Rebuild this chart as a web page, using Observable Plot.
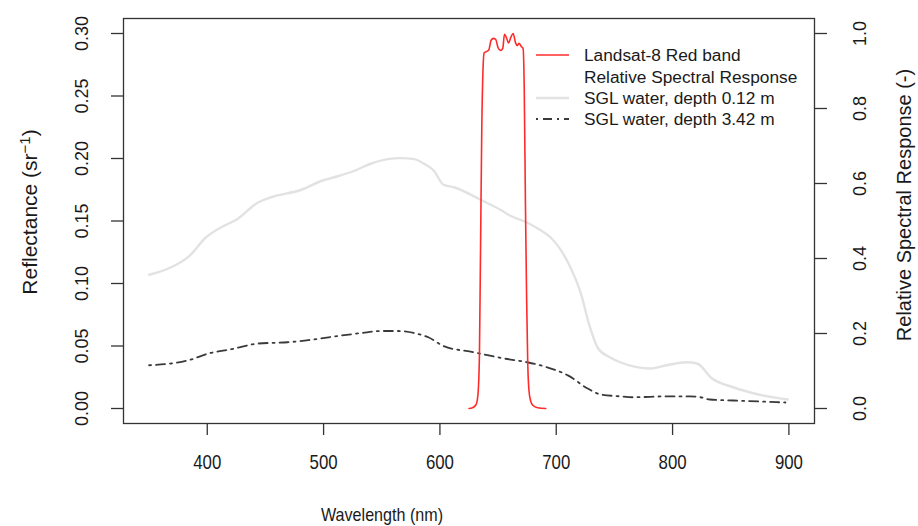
<!DOCTYPE html>
<html><head><meta charset="utf-8">
<script src="https://cdn.jsdelivr.net/npm/d3@7"></script>
<script src="https://cdn.jsdelivr.net/npm/@observablehq/plot@0.6"></script>
<style>body{margin:0;background:#fff;} svg{display:block;}</style>
</head><body><div id="chart"></div>
<script>
// ---- data ----
const xTicks = [400, 500, 600, 700, 800, 900];
const reflTicks = [0, 0.05, 0.10, 0.15, 0.20, 0.25, 0.30];
const rsrTicks = [0, 0.2, 0.4, 0.6, 0.8, 1.0];
const RSR_TO_REFL = 0.3; // right axis 1.0 aligns with left axis 0.30

const shallowWl   = [350, 369, 384, 399, 412, 425, 444, 455, 481, 498, 513, 526, 541, 555, 566, 578, 586, 595, 603, 612, 635, 652, 661, 672, 686, 695, 710, 721, 729, 736, 746, 755, 781, 795, 812, 821, 834, 852, 875, 899];
const shallowRefl = [0.107, 0.113, 0.1215, 0.137, 0.145, 0.151, 0.165, 0.169, 0.175, 0.182, 0.186, 0.190, 0.196, 0.1995, 0.2003, 0.1995, 0.196, 0.190, 0.179, 0.177, 0.167, 0.159, 0.154, 0.150, 0.143, 0.137, 0.117, 0.0925, 0.065, 0.048, 0.041, 0.037, 0.032, 0.0346, 0.037, 0.036, 0.024, 0.017, 0.011, 0.0072];

const deepWl   = [350, 369, 384, 401, 421, 444, 469, 487, 512, 532, 549, 564, 578, 590, 603, 629, 655, 675, 692, 710, 727, 738, 755, 766, 795, 815, 824, 832, 852, 875, 897];
const deepRefl = [0.0346, 0.036, 0.0386, 0.044, 0.0475, 0.052, 0.053, 0.0547, 0.058, 0.0603, 0.062, 0.062, 0.0603, 0.057, 0.050, 0.045, 0.040, 0.037, 0.033, 0.0265, 0.016, 0.0113, 0.0097, 0.009, 0.0097, 0.0097, 0.009, 0.0072, 0.0064, 0.0056, 0.0048];

const rsrWl  = [625, 628, 631, 632, 633, 634, 635, 636, 637, 638, 640, 642, 644, 646, 648, 650, 652, 654, 655.5, 657, 659, 661, 663, 665, 666.5, 668, 670, 671.5, 672.5, 673.5, 674.5, 675.5, 676.5, 678, 680, 684, 691];
const rsrVal = [0, 0.002, 0.01, 0.02, 0.05, 0.15, 0.45, 0.75, 0.9, 0.948, 0.952, 0.956, 0.982, 0.987, 0.984, 0.962, 0.955, 0.96, 0.998, 0.99, 0.975, 0.99, 1.0, 0.975, 0.968, 0.974, 0.965, 0.96, 0.85, 0.55, 0.3, 0.12, 0.05, 0.02, 0.008, 0.002, 0];

const legendLabels = ["Landsat-8 Red band", "Relative Spectral Response", "SGL water, depth 0.12 m", "SGL water, depth 3.42 m"];

// ---- tables ----
const shallow = shallowWl.map((w, i) => ({w, r: shallowRefl[i]}));
const deep = deepWl.map((w, i) => ({w, r: deepRefl[i]}));
const rsr = rsrWl.map((w, i) => ({w, r: rsrVal[i] * RSR_TO_REFL}));

const TXT = "#1a1a1a";
const RED = "#ff2b2b";
const GREY = "#e2e2e2";
const DARK = "#3a3a3a";
const FONT = "Liberation Sans, Arial, sans-serif";

const chart = Plot.plot({
  width: 918, height: 526,
  marginLeft: 123, marginRight: 104, marginTop: 18, marginBottom: 103,
  style: {fontFamily: FONT, fontSize: "18px", color: TXT, background: "#fff"},
  x: {domain: [328, 922]},
  y: {domain: [-0.012, 0.312]},
  marks: [
    Plot.line(shallow, {x: "w", y: "r", stroke: GREY, strokeWidth: 2.4, curve: "monotone-x"}),
    Plot.line(deep, {x: "w", y: "r", stroke: DARK, strokeWidth: 1.8, strokeDasharray: "2,5,9,5", curve: "monotone-x"}),
    Plot.line(rsr, {x: "w", y: "r", stroke: RED, strokeWidth: 1.6, curve: "monotone-x"}),
    Plot.frame({stroke: "#333", strokeWidth: 1.3}),
    Plot.axisX(xTicks, {tickSize: 12, tickPadding: 19, fontSize: 21, stroke: "#333", strokeWidth: 1.3, tickFormat: d => String(d), label: null}),
    Plot.axisY(reflTicks, {anchor: "left", tickSize: 12, tickPadding: 24, fontSize: 18, tickRotate: -90, stroke: "#333", strokeWidth: 1.3, tickFormat: d => d.toFixed(2), label: null}),
    Plot.axisY(rsrTicks.map(v => v * RSR_TO_REFL), {anchor: "right", tickSize: 12, tickPadding: 27, fontSize: 18, tickRotate: -90, lineAnchor: "top", stroke: "#333", strokeWidth: 1.3, tickFormat: d => (d / RSR_TO_REFL).toFixed(1), label: null})
  ]
});

document.getElementById("chart").appendChild(chart);

// horizontally narrow the x tick labels (reference glyphs are tall and narrow)
const svg = d3.select(chart);
svg.selectAll('g[aria-label="x-axis tick label"] text').each(function () {
  const len = this.getComputedTextLength();
  if (len > 0) {
    this.setAttribute("textLength", (len * 0.8).toFixed(2));
    this.setAttribute("lengthAdjust", "spacingAndGlyphs");
  }
});

// ---- axis titles and legend ----
const g = svg.append("g").attr("fill", TXT).style("font-family", FONT);

g.append("text").attr("x", 382).attr("y", 521).attr("text-anchor", "middle")
  .attr("textLength", 122).attr("lengthAdjust", "spacingAndGlyphs")
  .style("font-size", "19px").text("Wavelength (nm)");

const lt = g.append("text").attr("transform", "translate(37,212) rotate(-90)")
  .attr("text-anchor", "middle").style("font-size", "21px");
lt.append("tspan").text("Reflectance (sr");
lt.append("tspan").attr("dy", "-0.5em").style("font-size", "15px").text("\u22121");
lt.append("tspan").attr("dy", "0.35em").text(")");

g.append("text").attr("transform", "translate(911,205) rotate(-90)")
  .attr("text-anchor", "middle").style("font-size", "20px").text("Relative Spectral Response (-)");

const leg = g.append("g").style("font-size", "17.3px");
const rows = [55, 76.5, 98, 119];
leg.selectAll("text").data(legendLabels).join("text")
  .attr("text-anchor", "start")
  .attr("x", 584).attr("y", (d, i) => rows[i]).attr("dy", "0.35em").text(d => d);
const legLines = [
  {row: 0, stroke: RED, w: 1.6, dash: null},
  {row: 2, stroke: GREY, w: 2.4, dash: null},
  {row: 3, stroke: DARK, w: 1.8, dash: "2,5,9,5"}
];
leg.selectAll("line").data(legLines).join("line")
  .attr("x1", 536).attr("x2", 569)
  .attr("y1", d => rows[d.row]).attr("y2", d => rows[d.row])
  .attr("stroke", d => d.stroke).attr("stroke-width", d => d.w)
  .attr("stroke-dasharray", d => d.dash);
</script>
</body></html>
